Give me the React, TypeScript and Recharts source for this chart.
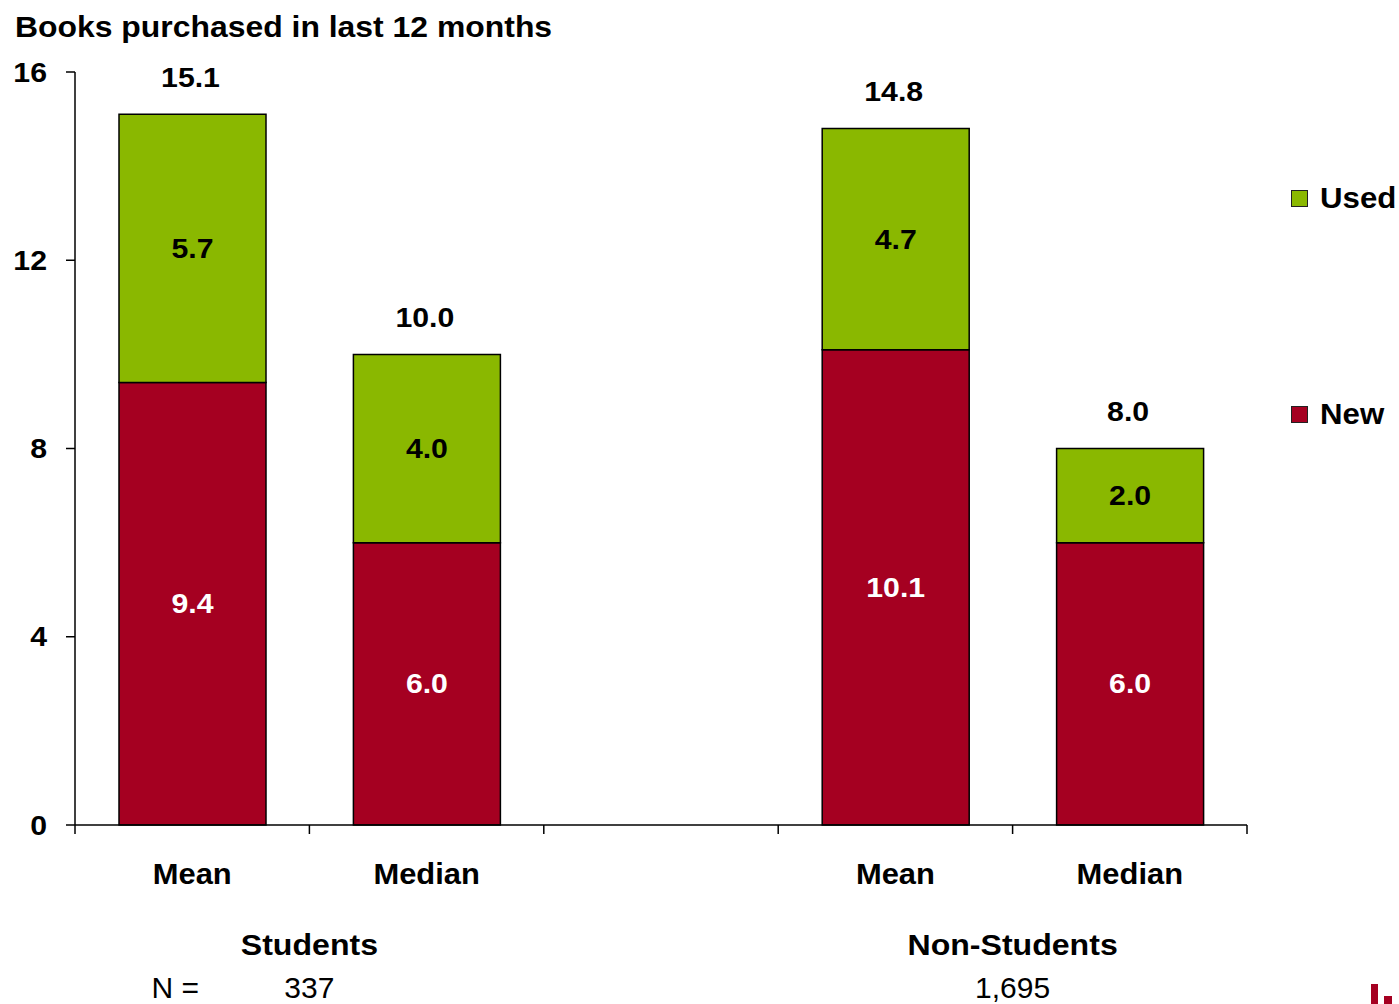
import { Bar, BarChart, LabelList, Legend, XAxis, YAxis } from "recharts";

const categories = ["Mean", "Median", "", "Mean", "Median"];
const newBooks = [9.4, 6.0, null, 10.1, 6.0];
const usedBooks = [5.7, 4.0, null, 4.7, 2.0];
const totals = [15.1, 10.0, null, 14.8, 8.0];
const yTicks = [0, 4, 8, 12, 16];
// each group label sits on the boundary right after this category index
const groupAfter = [0, 3];
const groupNames = ["Students", "Non-Students"];
const groupSizes = ["337", "1,695"];

const rows = categories.map((cat, i) => ({
  cat,
  New: newBooks[i],
  Used: usedBooks[i],
  total: totals[i]
}));

const FONT = "'Liberation Sans', Arial, Helvetica, sans-serif";
const RED = "#a50021";
const GREEN = "#8ab800";

function StretchText({ x, y, text, size, sx, bold = true, anchor = "middle", fill = "#000" }: any) {
  return (
    <text
      x={0}
      y={0}
      transform={`translate(${x},${y}) scale(${sx},1)`}
      textAnchor={anchor}
      dominantBaseline="central"
      fontFamily={FONT}
      fontWeight={bold ? 700 : 400}
      fontSize={size}
      fill={fill}
    >
      {text}
    </text>
  );
}

function YTick({ x, y, payload }: any) {
  return <StretchText x={x} y={y} text={String(payload.value)} size={28} sx={1.08} anchor="end" />;
}

function CatTick({ x, y, payload, index, width, visibleTicksCount }: any) {
  const half = payload.offset ?? width / visibleTicksCount / 2;
  const i = payload.index ?? index;
  const g = groupAfter.indexOf(i);
  const last = i === categories.length - 1;
  return (
    <g>
      <line x1={x - half} x2={x - half} y1={y} y2={y + 9} stroke="#000" strokeWidth={1.5} />
      {last && <line x1={x + half} x2={x + half} y1={y} y2={y + 9} stroke="#000" strokeWidth={1.5} />}
      {payload.value && <StretchText x={x} y={y + 48} text={payload.value} size={30} sx={1.03} />}
      {g >= 0 && (
        <g>
          <StretchText x={x + half} y={y + 120} text={groupNames[g]} size={30} sx={1.07} />
          <StretchText x={x + half} y={y + 162} text={groupSizes[g]} size={30} sx={1.0} bold={false} />
          {g === 0 && <StretchText x={x - 17} y={y + 162} text="N =" size={30} sx={1.0} bold={false} />}
        </g>
      )}
    </g>
  );
}

function insideLabel(color: string) {
  return (props: any) => {
    const { x, y, width, height, value } = props;
    if (value == null) return null;
    return (
      <StretchText
        x={Number(x) + Number(width) / 2}
        y={Number(y) + Number(height) / 2}
        text={Number(value).toFixed(1)}
        size={28}
        sx={1.08}
        fill={color}
      />
    );
  };
}

function TotalLabel(props: any) {
  const { x, y, width, value } = props;
  if (value == null) return null;
  return (
    <StretchText x={Number(x) + Number(width) / 2 - 2} y={Number(y) - 37} text={Number(value).toFixed(1)} size={28} sx={1.08} />
  );
}

function LegendBox({ payload }: any) {
  const items = [...(payload || [])].reverse();
  return (
    <div>
      {items.map((item: any) => (
        <div key={item.value} style={{ display: "flex", alignItems: "center", height: 36, marginBottom: 180 }}>
          <span
            style={{
              width: 15,
              height: 15,
              background: item.color,
              border: "1.5px solid #222",
              display: "inline-block",
              marginRight: 12
            }}
          />
          <span
            style={{
              fontFamily: FONT,
              fontWeight: 700,
              fontSize: 30,
              color: "#000",
              display: "inline-block",
              transform: "scaleX(1.04)",
              transformOrigin: "left center"
            }}
          >
            {item.value}
          </span>
        </div>
      ))}
    </div>
  );
}

export default function App() {
  return (
    <div style={{ position: "absolute", left: 0, top: 0, width: 1399, height: 1004, background: "#fff" }}>
      <div
        style={{
          position: "absolute",
          left: 15,
          top: 12,
          fontFamily: FONT,
          fontWeight: 700,
          fontSize: 29,
          lineHeight: "30px",
          whiteSpace: "nowrap",
          transform: "scaleX(1.1)",
          transformOrigin: "left center"
        }}
      >
        Books purchased in last 12 months
      </div>
      <BarChart
        width={1399}
        height={1004}
        data={rows}
        margin={{ top: 72, right: 152, bottom: 178, left: 0 }}
        barSize={147}
      >
        <XAxis
          xAxisId="cat"
          dataKey="cat"
          interval={0}
          height={1}
          tickSize={0}
          tickMargin={0}
          axisLine={{ stroke: "#000", strokeWidth: 1.5 }}
          tickLine={false}
          tick={CatTick}
        />
        <YAxis
          domain={[0, 16]}
          ticks={yTicks}
          interval={0}
          width={75}
          tickSize={9}
          tickMargin={19}
          axisLine={{ stroke: "#000", strokeWidth: 1.5 }}
          tickLine={{ stroke: "#000", strokeWidth: 1.5 }}
          tick={YTick}
        />
        <Legend
          layout="vertical"
          align="center"
          verticalAlign="middle"
          content={LegendBox}
          wrapperStyle={{ left: 1291, top: 180, width: 108 }}
        />
        <Bar xAxisId="cat" dataKey="New" name="New" stackId="a" fill={RED} stroke="#000" strokeWidth={1.5} isAnimationActive={false}>
          <LabelList dataKey="New" content={insideLabel("#fff")} />
        </Bar>
        <Bar xAxisId="cat" dataKey="Used" name="Used" stackId="a" fill={GREEN} stroke="#000" strokeWidth={1.5} isAnimationActive={false}>
          <LabelList dataKey="Used" content={insideLabel("#000")} />
          <LabelList dataKey="total" content={TotalLabel} />
        </Bar>
      </BarChart>
      <div style={{ position: "absolute", left: 1371, top: 984, width: 7, height: 20, background: RED }} />
      <div style={{ position: "absolute", left: 1384, top: 996, width: 8, height: 8, background: RED }} />
    </div>
  );
}
